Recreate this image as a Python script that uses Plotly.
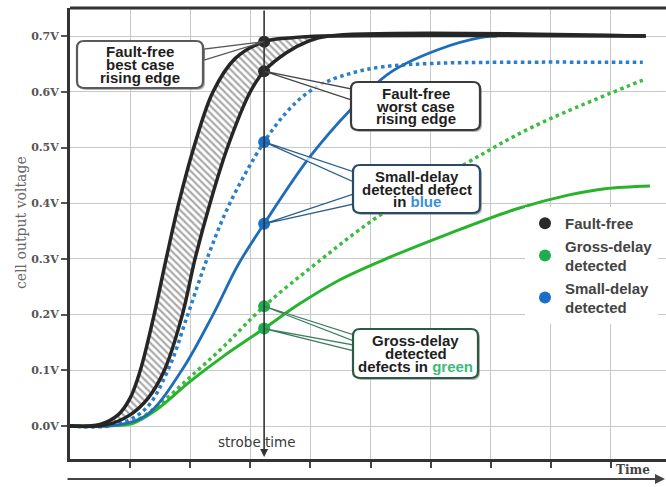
import plotly.graph_objects as go

# ---------------- data ----------------
strobe_time = 3.23

ff_best_x = [0, 0.5, 0.8, 1.0, 1.17, 1.40, 1.60, 1.81, 2.06, 2.38, 2.75, 3.23, 3.7, 4.2, 9.58]
ff_best_y = [0, 0.003, 0.02, 0.05, 0.10, 0.20, 0.30, 0.40, 0.50, 0.60, 0.66, 0.69, 0.697, 0.70, 0.70]

ff_worst_x = [0, 0.6, 1.0, 1.3, 1.57, 1.87, 2.08, 2.33, 2.62, 3.0, 3.23, 3.6, 3.95, 4.3, 9.58]
ff_worst_y = [0, 0.002, 0.02, 0.05, 0.10, 0.20, 0.30, 0.40, 0.50, 0.60, 0.637, 0.67, 0.69, 0.70, 0.70]

small_dotted_x = [0, 0.75, 1.25, 1.63, 1.96, 2.28, 2.66, 3.23, 3.6, 3.9, 4.25, 4.7, 5.21, 6.04, 7.15, 9.53]
small_dotted_y = [0, 0.002, 0.03, 0.10, 0.20, 0.30, 0.40, 0.51, 0.563, 0.594, 0.617, 0.634, 0.645, 0.651, 0.653, 0.653]

small_solid_x = [0, 0.8, 1.28, 1.86, 2.38, 2.8, 3.23, 3.99, 4.66, 5.32, 6.11, 6.87, 7.1]
small_solid_y = [0, 0.002, 0.02, 0.10, 0.20, 0.29, 0.363, 0.483, 0.567, 0.634, 0.675, 0.698, 0.70]

gross_dotted_x = [0, 0.75, 1.1, 1.5, 2.0, 2.55, 3.23, 4.11, 5.11, 6.6, 7.7, 9.53]
gross_dotted_y = [0, 0.002, 0.01, 0.04, 0.088, 0.142, 0.215, 0.293, 0.375, 0.472, 0.537, 0.621]

gross_solid_x = [0, 0.75, 1.05, 1.45, 2.0, 2.55, 3.23, 3.8, 4.5, 5.21, 6.32, 7.44, 8.27, 8.9, 9.65]
gross_solid_y = [0, 0.001, 0.005, 0.03, 0.08, 0.125, 0.175, 0.218, 0.263, 0.298, 0.346, 0.39, 0.414, 0.426, 0.431]

ff_dots = [0.69, 0.637]
small_dots = [0.51, 0.363]
gross_dots = [0.215, 0.175]

y_tick_vals = [0.0, 0.1, 0.2, 0.3, 0.4, 0.5, 0.6, 0.7]
y_tick_text = ["0.0V", "0.1V", "0.2V", "0.3V", "0.4V", "0.5V", "0.6V", "0.7V"]
x_tick_vals = [1, 2, 3, 4, 5, 6, 7, 8, 9]

legend_names = ["<b>Fault-free</b>", "<b>Gross-delay<br>detected</b>", "<b>Small-delay<br>detected</b>"]

# ---------------- layout helpers (pixel geometry) ----------------
W, H = 666, 487
L, T, R, B = 70, 8, 666, 459
X_PER = 60.1          # px per x unit
Y_ZERO = 426          # px of 0 V
Y_PER = 557.0         # px per 1 V
X_RANGE = [0, (R - L) / X_PER]
Y_RANGE = [(Y_ZERO - B) / Y_PER, (Y_ZERO - T) / Y_PER]


def xd(px):
    return (px - L) / X_PER


def yd(py):
    return (Y_ZERO - py) / Y_PER


def xp(px):
    return (px - L) / (R - L)


def yp(py):
    return (B - py) / (B - T)


BLACK = "#262626"
BLUE = "#1f6db8"
BLUE_DOT = "#2b7fc6"
GREEN = "#27b32c"
GREEN_DOT = "#3dbd3f"

fig = go.Figure()

fig.add_trace(go.Scatter(x=gross_dotted_x, y=gross_dotted_y, mode="lines", showlegend=False,
                         line=dict(color=GREEN_DOT, width=3.5, dash="3.5px,3.5px", shape="spline")))
fig.add_trace(go.Scatter(x=gross_solid_x, y=gross_solid_y, mode="lines", showlegend=False,
                         line=dict(color=GREEN, width=3, shape="spline")))
fig.add_trace(go.Scatter(x=small_dotted_x, y=small_dotted_y, mode="lines", showlegend=False,
                         line=dict(color=BLUE_DOT, width=3.5, dash="3.5px,3.5px", shape="spline")))
fig.add_trace(go.Scatter(x=small_solid_x, y=small_solid_y, mode="lines", showlegend=False,
                         line=dict(color=BLUE, width=2.8, shape="spline")))
fig.add_trace(go.Scatter(x=ff_worst_x, y=ff_worst_y, mode="lines", showlegend=False,
                         line=dict(color=BLACK, width=3.5, shape="spline")))
fig.add_trace(go.Scatter(x=ff_best_x, y=ff_best_y, mode="lines", showlegend=False,
                         fill="tonexty", fillcolor="white",
                         fillpattern=dict(shape="\\", fgcolor="#555555", bgcolor="white",
                                          size=5, solidity=0.45),
                         line=dict(color=BLACK, width=3.5, shape="spline")))

# ---------------- callouts and boxes ----------------
shapes = []
annotations = []


def wedge(xa, ya, p1, p2, color):
    path = (f"M {xa},{ya} L {xd(p1[0])},{yd(p1[1])} "
            f"L {xd(p2[0])},{yd(p2[1])} Z")
    shapes.append(dict(type="path", path=path, xref="x", yref="y", layer="above",
                       fillcolor="rgba(255,255,255,0.75)", line=dict(color=color, width=1.3)))


def rbox_path(x0, y0, x1, y1, r=7):
    def P(px, py):
        return f"{xp(px):.5f},{yp(py):.5f}"
    return (f"M {P(x0 + r, y0)} L {P(x1 - r, y0)} Q {P(x1, y0)} {P(x1, y0 + r)} "
            f"L {P(x1, y1 - r)} Q {P(x1, y1)} {P(x1 - r, y1)} "
            f"L {P(x0 + r, y1)} Q {P(x0, y1)} {P(x0, y1 - r)} "
            f"L {P(x0, y0 + r)} Q {P(x0, y0)} {P(x0 + r, y0)} Z")


def box(x0, y0, x1, y1, border, lines):
    shapes.append(dict(type="path", path=rbox_path(x0 + 2, y0 + 2, x1 + 2, y1 + 2),
                       xref="paper", yref="paper", layer="above",
                       fillcolor="rgba(120,120,120,0.55)", line=dict(width=0)))
    shapes.append(dict(type="path", path=rbox_path(x0, y0, x1, y1),
                       xref="paper", yref="paper", layer="above",
                       fillcolor="white", line=dict(color=border, width=2.2)))
    cx = (x0 + x1) / 2
    cy = (y0 + y1) / 2
    n = len(lines)
    for i, t in enumerate(lines):
        ly = cy + (i - (n - 1) / 2) * 12.6
        annotations.append(dict(x=xp(cx), y=yp(ly), xref="paper", yref="paper",
                                text=f"<b>{t}</b>", showarrow=False, borderpad=0,
                                xanchor="center", yanchor="middle",
                                font=dict(family="Liberation Sans, Arial", size=15, color="#1e1e1e")))


wedge(strobe_time, ff_dots[0], (204, 49), (204, 60), "#555555")
box(77, 41, 203, 88, "#5a5a5a", ["Fault-free", "best case", "rising edge"])

wedge(strobe_time, ff_dots[1], (352, 89), (352, 100), "#444444")
box(351, 82, 480, 130, "#3a3a3a", ["Fault-free", "worst case", "rising edge"])

wedge(strobe_time, small_dots[0], (354, 172), (354, 182), "#2a5f8f")
wedge(strobe_time, small_dots[1], (354, 194), (354, 204), "#2a5f8f")
box(353, 165, 480, 213, "#2c4a66",
    ["Small-delay", "detected defect", "in <span style='color:#3b8fd8'>blue</span>"])

wedge(strobe_time, gross_dots[0], (354, 335), (354, 341), "#3d7d5f")
wedge(strobe_time, gross_dots[1], (354, 345), (354, 351), "#3d7d5f")
box(353, 329, 478, 378, "#2b5a45",
    ["Gross-delay", "detected", "defects in <span style='color:#3dbb7a'>green</span>"])

# top border
shapes.append(dict(type="line", xref="paper", yref="paper", x0=0, x1=1, y0=1, y1=1,
                   line=dict(color="#333333", width=3)))

# ---------------- dots (also the legend entries) ----------------
fig.add_trace(go.Scatter(x=[strobe_time] * len(ff_dots), y=ff_dots, mode="markers",
                         name=legend_names[0], marker=dict(color="#2a2a2a", size=12)))
fig.add_trace(go.Scatter(x=[strobe_time] * len(gross_dots), y=gross_dots, mode="markers",
                         name=legend_names[1], marker=dict(color="#1fae4f", size=12)))
fig.add_trace(go.Scatter(x=[strobe_time] * len(small_dots), y=small_dots, mode="markers",
                         name=legend_names[2], marker=dict(color="#1b6fcc", size=12)))

# strobe line with arrow
annotations.append(dict(x=strobe_time, y=yd(B - 2), xref="x", yref="y",
                        ax=strobe_time, ay=yd(T + 1), axref="x", ayref="y",
                        showarrow=True, arrowhead=2, arrowsize=1, arrowwidth=1.6,
                        arrowcolor="#333333", text=""))
annotations.append(dict(x=strobe_time, y=yp(442), xref="x", yref="paper", xshift=-7,
                        xanchor="center", yanchor="middle",
                        text="strobe time", showarrow=False,
                        font=dict(family="DejaVu Sans", size=13.5, color="#3a3a3a")))

# time arrow below the axis
annotations.append(dict(x=xp(665), y=yp(479), xref="paper", yref="paper",
                        ax=-(665 - 66), ay=0, axref="pixel", ayref="pixel",
                        showarrow=True, arrowhead=2, arrowsize=1, arrowwidth=2,
                        arrowcolor="#444444", text=""))
annotations.append(dict(x=xp(633), y=yp(470), xref="paper", yref="paper",
                        xanchor="center", yanchor="middle",
                        text="<b>Time</b>", showarrow=False,
                        font=dict(family="DejaVu Serif", size=12, color="#444444")))

# y title
annotations.append(dict(x=xp(21), y=yp(222), xref="paper", yref="paper",
                        xanchor="center", yanchor="middle",
                        text="cell output voltage", showarrow=False, textangle=-90,
                        font=dict(family="DejaVu Serif", size=14, color="#666666")))

fig.update_layout(
    width=W, height=H,
    margin=dict(l=L, r=W - R, t=T, b=H - B, autoexpand=False),
    paper_bgcolor="white", plot_bgcolor="white",
    shapes=shapes, annotations=annotations,
    showlegend=True,
    legend=dict(x=xp(525), y=yp(207), xanchor="left", yanchor="top",
                bgcolor="white", borderwidth=0, traceorder="normal",
                font=dict(family="Liberation Sans, Arial", size=15, color="#444444")),
    xaxis=dict(range=X_RANGE, tickvals=x_tick_vals, showticklabels=False,
               ticks="outside", ticklen=6, tickwidth=1.5, tickcolor="#444444",
               showgrid=True, gridcolor="#c8c8c8", gridwidth=1.4,
               showline=True, linecolor="#333333", linewidth=3,
               zeroline=False, fixedrange=True, automargin=False),
    yaxis=dict(range=Y_RANGE, tickvals=y_tick_vals, ticktext=y_tick_text,
               ticks="outside", ticklen=6, tickwidth=1.5, tickcolor="#555555",
               tickfont=dict(family="DejaVu Serif", size=11, color="#555555", weight="bold"),
               showgrid=True, gridcolor="#c8c8c8", gridwidth=1.4,
               showline=True, linecolor="#333333", linewidth=3,
               zeroline=False, fixedrange=True, automargin=False),
)

fig.write_html("out.html", config={"displayModeBar": False},
               post_script="document.body.style.margin='0';document.body.style.padding='0';")
